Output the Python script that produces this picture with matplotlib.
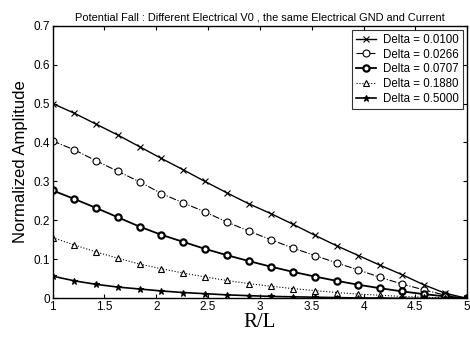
import matplotlib
matplotlib.use("Agg")
import matplotlib.pyplot as plt

plt.rcParams['font.family'] = ['Liberation Sans', 'DejaVu Sans']
plt.rcParams['xtick.direction'] = 'in'
plt.rcParams['ytick.direction'] = 'in'

# R/L sample points
r_over_l = [1.0, 1.21, 1.42, 1.63, 1.84, 2.05, 2.26, 2.47, 2.68, 2.89,
            3.11, 3.32, 3.53, 3.74, 3.95, 4.16, 4.37, 4.58, 4.79, 5.0]

amp_0100 = [0.500, 0.475, 0.447, 0.419, 0.389, 0.359, 0.330, 0.300, 0.271, 0.243,
            0.217, 0.190, 0.162, 0.135, 0.110, 0.085, 0.061, 0.035, 0.013, 0.0]
amp_0266 = [0.404, 0.381, 0.353, 0.326, 0.299, 0.269, 0.245, 0.222, 0.196, 0.173,
            0.150, 0.129, 0.110, 0.091, 0.073, 0.054, 0.037, 0.022, 0.008, 0.0]
amp_0707 = [0.277, 0.255, 0.232, 0.208, 0.184, 0.163, 0.145, 0.127, 0.111, 0.096,
            0.081, 0.068, 0.056, 0.045, 0.035, 0.026, 0.018, 0.011, 0.005, 0.0]
amp_1880 = [0.156, 0.137, 0.119, 0.103, 0.088, 0.076, 0.065, 0.055, 0.046, 0.038,
            0.031, 0.025, 0.020, 0.015, 0.011, 0.008, 0.005, 0.003, 0.001, 0.0]
amp_5000 = [0.057, 0.045, 0.036, 0.029, 0.024, 0.019, 0.015, 0.012, 0.009, 0.007,
            0.005, 0.004, 0.003, 0.002, 0.001, 0.001, 0.0, 0.0, 0.0, 0.0]

labels = ['Delta = 0.0100', 'Delta = 0.0266', 'Delta = 0.0707',
          'Delta = 0.1880', 'Delta = 0.5000']

fig = plt.figure(figsize=(4.7, 3.41), dpi=100)
ax = fig.add_axes([0.112, 0.125, 0.882, 0.8])

ax.plot(r_over_l, amp_0100, color='black', lw=1.0, ls='-', marker='x',
        ms=4, mew=0.8, label=labels[0])
ax.plot(r_over_l, amp_0266, color='black', lw=0.8, ls='-.', marker='o',
        ms=5, mfc='white', mew=0.8, label=labels[1])
ax.plot(r_over_l, amp_0707, color='black', lw=1.3, ls='-', marker='o',
        ms=4.5, mfc='white', mew=1.6, label=labels[2])
ax.plot(r_over_l, amp_1880, color='black', lw=0.8, ls=':', marker='^',
        ms=5, mfc='white', mew=0.8, label=labels[3])
ax.plot(r_over_l, amp_5000, color='black', lw=1.2, ls='-', marker='*',
        ms=5, mew=0.8, label=labels[4])

ax.set_xlim(1, 5)
ax.set_ylim(0, 0.7)
ax.set_xticks([1, 1.5, 2, 2.5, 3, 3.5, 4, 4.5, 5])
ax.set_xticklabels(['1', '1.5', '2', '2.5', '3', '3.5', '4', '4.5', '5'])
ax.set_yticks([0, 0.1, 0.2, 0.3, 0.4, 0.5, 0.6, 0.7])
ax.set_yticklabels(['0', '0.1', '0.2', '0.3', '0.4', '0.5', '0.6', '0.7'])
ax.tick_params(top=True, right=True, labelsize=8.5, length=3, width=0.8, pad=2)
for s in ax.spines.values():
    s.set_linewidth(1.0)

ax.set_title('Potential Fall : Different Electrical V0 , the same Electrical GND and Current',
             fontsize=7.9, pad=4)
ax.set_ylabel('Normalized Amplitude', fontsize=12, labelpad=4)
ax.set_xlabel('R/L', fontsize=15, family='Liberation Serif', labelpad=0)

leg = ax.legend(loc='upper right', fontsize=8.3, frameon=True, fancybox=False,
                edgecolor='black', handlelength=1.8, borderpad=0.3,
                labelspacing=0.25, handletextpad=0.6, borderaxespad=0.4)
leg.get_frame().set_linewidth(0.8)

fig.savefig('out.png', dpi=100)
